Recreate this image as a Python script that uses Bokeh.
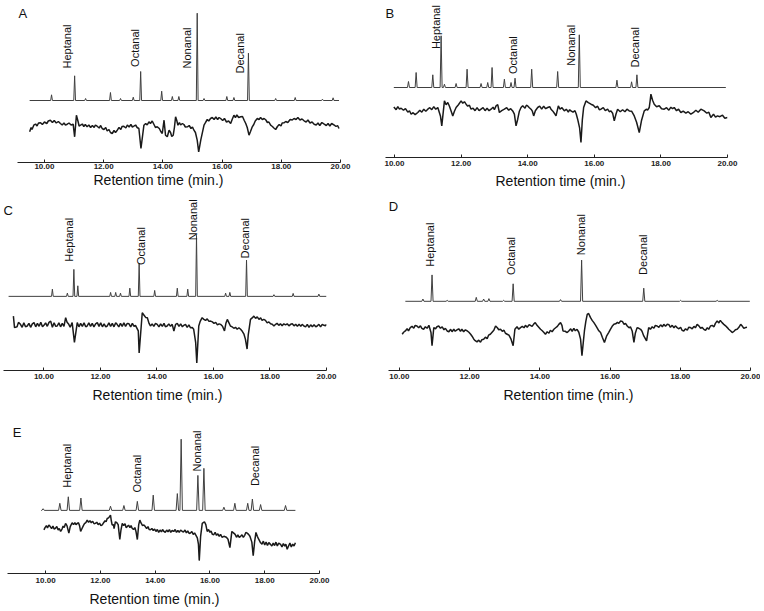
from math import pi
from bokeh.plotting import figure
from bokeh.layouts import column, row
from bokeh.models import FixedTicker, Label, Title
from bokeh.core.properties import value
from bokeh.embed import file_html
from bokeh.resources import INLINE

# ---------------- data ----------------
TICKS = [10, 12, 14, 16, 18, 20]
TICK_LABELS = ["10.00", "12.00", "14.00", "16.00", "18.00", "20.00"]
COMPOUNDS = ["Heptanal", "Octanal", "Nonanal", "Decanal"]
X_TITLE = "Retention time (min.)"

# Panel A
A_RUN = (9.50, 19.95)
A_PEAK_T = [10.24, 11.02, 11.39, 12.23, 12.57, 13.00, 13.25, 13.96, 14.32, 14.54, 15.16, 15.39, 16.16, 16.40, 16.89, 17.81, 18.47, 19.39, 19.75]
A_PEAK_H = [5.7, 24.7, 2.0, 8.0, 2.0, 3.3, 29.0, 9.3, 4.0, 4.0, 87.3, 2.0, 4.0, 3.0, 47.3, 2.0, 3.0, 1.3, 2.7]
A_LOWER = [(9.50, -8.3), (9.64, -1.7), (9.87, 0.7), (10.20, 3.3), (10.54, 0), (10.77, -0.7), (10.97, -0.7),
           (11.02, -13.3), (11.08, 8.3), (11.22, -1.7), (11.44, -3.3), (11.78, -2.7), (12.01, -6), (12.29, -10),
           (12.46, -6.7), (12.68, -2.7), (13.02, -2.7), (13.19, -5), (13.26, -25), (13.36, -1.7), (13.53, 1.7),
           (13.81, -3.3), (13.98, -10), (14.04, 3.3), (14.09, -11.7), (14.15, -13.3), (14.21, -6.7), (14.35, -11.7),
           (14.43, 6.7), (14.51, -1.7), (14.66, 0), (14.83, -3.3), (15.05, -6.7), (15.16, -16.7), (15.21, -28.3),
           (15.28, -16.7), (15.39, -1.7), (15.61, 5), (15.95, 5), (16.29, 0), (16.40, 8.3), (16.63, 6.7), (16.80, 0),
           (16.91, -11.7), (17.02, -3.3), (17.19, 5), (17.42, 5), (17.64, -1.7), (17.81, -6), (18.09, 0.7),
           (18.43, 5), (18.77, 2.7), (19.11, -0.7), (19.45, -0.7), (19.79, -1.7), (19.95, -5)]
A_LOWER_FINE = [(9.55, -4), (9.58, -6), (9.70, -0.5), (9.75, -2.5), (9.80, 0.5), (9.93, -1), (10.00, 1.5), (10.08, 0),
                (10.13, 2.5), (10.27, 1), (10.33, 3), (10.40, 0.5), (10.47, 2), (10.60, -1.5), (10.66, 0.5), (10.71, -1.5),
                (10.83, 0.5), (10.90, -1.5), (11.14, 1.5), (11.17, -2.5), (11.28, -0.5), (11.33, -3), (11.38, -1),
                (11.50, -1.5), (11.56, -4), (11.62, -2), (11.68, -4), (11.72, -1.5), (11.85, -4.5), (11.90, -2),
                (11.95, -5), (12.07, -4), (12.12, -7.5), (12.18, -6), (12.23, -9), (12.35, -7), (12.40, -9),
                (12.52, -4), (12.58, -6), (12.62, -3), (12.75, -4.5), (12.80, -1.5), (12.86, -3.5), (12.92, -1),
                (12.97, -3.5), (13.08, -1.5), (13.13, -4), (13.42, 0), (13.47, -1.5), (13.58, 0), (13.64, 2.5),
                (13.70, -1), (13.75, -4), (13.88, -5), (13.93, -8), (14.26, -9), (14.30, -13), (14.39, -4),
                (14.47, 3), (14.56, 1), (14.60, -1.5), (14.71, -1), (14.76, -3.5), (14.89, -2), (14.95, -5),
                (15.00, -3.5), (15.10, -9), (15.45, 1.5), (15.50, 4), (15.55, 2.5), (15.67, 6), (15.73, 4),
                (15.79, 6.5), (15.85, 4), (15.90, 6), (16.02, 3), (16.08, 5), (16.15, 1.5), (16.22, 2.5), (16.34, 4),
                (16.45, 6), (16.50, 8.5), (16.56, 6), (16.69, 7), (16.75, 3), (16.85, -4), (16.96, -8), (17.07, -1),
                (17.12, 2.5), (17.25, 4), (17.30, 6), (17.36, 4), (17.48, 3.5), (17.53, 1), (17.58, 1.5), (17.70, -3),
                (17.75, -4.5), (17.87, -3), (17.93, -1), (17.99, -2.5), (18.03, 0.5), (18.15, 2), (18.22, 1),
                (18.30, 4), (18.37, 3.5), (18.50, 4), (18.56, 6), (18.63, 3.5), (18.70, 4.5), (18.84, 1.5),
                (18.90, 3.5), (18.97, 0.5), (19.04, 1.5), (19.18, -1.5), (19.24, 0.5), (19.30, -2), (19.37, 1),
                (19.52, -2), (19.58, 0), (19.64, -2.5), (19.70, 0), (19.85, -3), (19.90, -2)]

# Panel B
B_RUN = (9.98, 19.95)
B_PEAK_T = [10.42, 10.65, 11.15, 11.40, 11.50, 11.85, 12.18, 12.60, 12.80, 12.93, 13.30, 13.50, 13.62, 14.12, 14.90, 15.55, 16.68, 17.12, 17.28]
B_PEAK_H = [6.0, 15.0, 12.7, 51.7, 3.3, 4.0, 18.3, 4.0, 5.0, 20.0, 8.3, 5.0, 9.3, 18.3, 16.0, 52.7, 7.3, 5.7, 12.7]
B_LOWER = [(9.98, 1.3), (10.20, 0), (10.50, -6), (10.70, -4.3), (11.00, -1), (11.30, 0.7), (11.38, -7.7),
           (11.42, -17.7), (11.50, 7.3), (11.60, 5.7), (11.70, -2.7), (11.75, -7.7), (11.85, 0.7), (12.00, 7.3),
           (12.15, 4), (12.30, -1), (12.60, -1), (12.90, -1), (13.05, 2.3), (13.15, -4.3), (13.30, -1),
           (13.55, -2.7), (13.65, -17.7), (13.70, -11), (13.80, 0.7), (14.00, 2.3), (14.10, -1), (14.18, -7.7),
           (14.30, 0.7), (14.60, 0.7), (14.75, -2.7), (14.85, -7.7), (14.92, 2.3), (15.10, -2.7), (15.30, -2.7),
           (15.50, -11), (15.60, -34.3), (15.68, 0.7), (15.75, 7.3), (15.90, 4), (16.20, -1), (16.50, -2.7),
           (16.60, -12.7), (16.70, -1), (17.05, -2.7), (17.20, -7.7), (17.35, -24.3), (17.50, -2.7), (17.65, 0.7),
           (17.70, 14), (17.80, 4), (18.10, -1), (18.40, 0.7), (18.60, -4.3), (18.90, -6), (19.30, -2.7),
           (19.50, -9.3), (19.70, -7.7), (20.00, -9.3)]
B_LOWER_FINE = [(10.05, -1.5), (10.10, 1.5), (10.15, -1), (10.27, -2), (10.33, -0.5), (10.40, -4), (10.45, -2.5),
                (10.56, -4.5), (10.62, -6.5), (10.76, -2), (10.82, -4), (10.88, -1), (10.94, -3), (11.06, 0.5),
                (11.12, -1.5), (11.18, 1.5), (11.24, -1), (11.55, 3.5), (11.65, 2), (11.80, -3), (11.92, 3.5),
                (12.05, 5), (12.10, 6.5), (12.20, 2), (12.25, 3), (12.36, 0), (12.42, -2.5), (12.48, 0.5),
                (12.54, -2.5), (12.66, 0.5), (12.72, -2.5), (12.78, 0), (12.84, -2.5), (12.96, 1), (13.00, -1.5),
                (13.10, 3.5), (13.22, -2.5), (13.37, 0.5), (13.43, -2), (13.49, -0.5), (13.60, -6), (13.75, -3),
                (13.85, 2.5), (13.92, 0), (13.96, 3), (14.05, 0.5), (14.14, -3), (14.23, -2.5), (14.36, 2),
                (14.42, -1), (14.48, 2), (14.54, -0.5), (14.66, 1.5), (14.70, -1), (14.80, -5), (14.97, -1),
                (15.03, 0.5), (15.16, -1), (15.22, -4), (15.26, -1.5), (15.36, -4), (15.42, -2.5), (15.46, -6),
                (15.56, -20), (15.64, -12), (15.82, 5.5), (15.97, 3), (16.04, 0.5), (16.10, 2), (16.15, -1.5),
                (16.27, 0.5), (16.33, -2.5), (16.40, -1), (16.45, -3.5), (16.55, -5), (16.65, -6), (16.78, -3.5),
                (16.85, -1.5), (16.92, -3.5), (16.98, -1), (17.12, -3), (17.27, -14), (17.42, -12), (17.57, -1),
                (17.60, -2), (17.68, 8), (17.75, 8), (17.87, 1.5), (17.95, 2.5), (18.02, -0.5), (18.17, 0.5),
                (18.24, -2), (18.30, 1), (18.35, -0.5), (18.47, -2.5), (18.53, -1), (18.67, -3), (18.75, -5),
                (18.82, -3.5), (18.97, -4.5), (19.05, -2), (19.12, -4), (19.20, -1), (19.38, -5), (19.44, -4),
                (19.58, -6), (19.64, -9), (19.77, -8.5), (19.85, -7), (19.92, -10)]

# Panel C
C_RUN = (8.75, 20.0)
C_PEAK_T = [10.30, 10.83, 11.06, 11.20, 12.36, 12.54, 12.71, 13.04, 13.37, 13.92, 14.72, 15.09, 15.40, 16.43, 16.58, 17.17, 18.14, 18.82, 19.73]
C_PEAK_H = [7.3, 3.3, 27.3, 10.7, 4.0, 4.0, 3.3, 8.3, 33.3, 6.0, 8.3, 7.3, 61.7, 3.3, 4.0, 36.7, 1.7, 3.0, 2.3]
C_LOWER = [(8.92, 9.3), (8.96, -2.3), (9.17, 1), (9.41, -0.7), (9.65, 2.7), (10.00, 0), (10.24, 4.3),
           (10.47, -0.7), (10.77, 7.7), (10.88, 1), (11.00, 2.7), (11.08, -17.3), (11.18, 2.7), (11.53, -0.7),
           (11.89, 2.7), (12.24, -0.7), (12.59, 1), (12.95, 2), (13.24, 0), (13.34, -5.7), (13.37, -28),
           (13.48, 12.7), (13.66, 7.7), (13.77, -0.7), (14.01, 1), (14.36, -0.7), (14.54, 1), (14.60, -5.7),
           (14.66, 1), (14.95, 0), (15.25, -2.3), (15.37, -17.3), (15.41, -38), (15.48, -0.7), (15.60, 7.7),
           (15.90, 4.3), (16.25, 1), (16.39, -5.7), (16.49, 6), (16.60, -0.7), (16.96, -4), (17.13, -14),
           (17.19, -24), (17.31, 6), (17.43, 9.3), (17.78, 6), (18.14, -0.7), (18.25, 2), (18.73, 1),
           (19.20, -0.7), (19.67, -0.7), (19.91, 0), (20.00, 1)]
C_LOWER_FINE = [(9.05, -1.5), (9.10, 3), (9.23, -2), (9.29, 2.5), (9.35, -1.5), (9.47, 2), (9.53, -2), (9.59, 1.5),
                (9.71, -1.5), (9.77, 2), (9.83, -1), (9.89, 3), (9.95, -1.5), (10.06, 2.5), (10.12, -1), (10.18, 3),
                (10.30, -2), (10.36, 2.5), (10.42, -1), (10.53, 2.5), (10.59, -1.5), (10.65, 2), (10.71, -1),
                (10.82, 3), (10.93, -2), (11.24, -1.5), (11.30, 2), (11.36, -1), (11.42, 2.5), (11.48, -1.5),
                (11.59, 2.5), (11.65, -1), (11.71, 2), (11.77, -1.5), (11.83, 1.5), (11.95, -1), (12.01, 2.5),
                (12.07, -1.5), (12.13, 1.5), (12.19, -1.5), (12.30, 2.5), (12.36, -1), (12.42, 2), (12.48, -1.5),
                (12.54, 2.5), (12.65, -1.5), (12.71, 2), (12.77, -1), (12.83, 2.5), (12.89, -1), (13.01, 1.5),
                (13.07, -1.5), (13.13, 2), (13.19, -1), (13.55, 10), (13.60, 8), (13.72, 2), (13.83, 1.5),
                (13.89, -1), (13.95, 2), (14.07, -1.5), (14.13, 1.5), (14.19, -1), (14.25, 2), (14.30, -1.5),
                (14.42, 1.5), (14.48, -1), (14.72, 2), (14.78, -1), (14.84, 1.5), (14.90, -1.5), (15.01, 1),
                (15.07, -2), (15.13, 0.5), (15.19, -2.5), (15.30, -4), (15.53, 4), (15.66, 6), (15.72, 5),
                (15.78, 6.5), (15.84, 4), (15.96, 3.5), (16.02, 2), (16.08, 3), (16.14, 0.5), (16.20, 1.5),
                (16.32, -1), (16.44, 2), (16.54, 3), (16.66, -1.5), (16.72, -3), (16.78, -2), (16.84, -4),
                (16.90, -2.5), (17.02, -6), (17.08, -9), (17.23, -10), (17.27, -2), (17.37, 7.5), (17.49, 7),
                (17.55, 8.5), (17.61, 6), (17.67, 7.5), (17.72, 5), (17.84, 5), (17.90, 2.5), (17.96, 3.5),
                (18.02, 1.5), (18.08, 1), (18.20, 1), (18.31, 0), (18.37, 1.5), (18.43, -0.5), (18.49, 1.5),
                (18.55, 0.5), (18.61, 1.5), (18.67, -0.5), (18.79, 1.5), (18.85, -0.5), (18.91, 1), (18.97, -1),
                (19.03, 1), (19.09, -1), (19.14, 1), (19.26, -1.5), (19.32, 1), (19.38, -2), (19.44, 0.5),
                (19.50, -1.5), (19.56, 0.5), (19.62, -1.5), (19.73, 1), (19.79, -1.5), (19.85, 1), (19.96, -0.5)]

# Panel D
D_RUN = (10.17, 19.98)
D_PEAK_T = [10.67, 10.93, 11.36, 12.19, 12.40, 12.55, 12.97, 13.24, 14.59, 15.19, 16.96, 18.01, 19.05]
D_PEAK_H = [2.3, 26.7, 1.0, 4.0, 2.3, 2.7, 1.0, 17.7, 1.7, 41.7, 13.3, 1.0, 1.0]
D_LOWER = [(10.08, -5), (10.17, -1.7), (10.31, 1.7), (10.50, 3.3), (10.69, 0), (10.84, 4), (10.90, -3.3),
           (10.93, -16.7), (10.98, 1.7), (11.12, 3.3), (11.36, -1.7), (11.64, -0.7), (11.93, -1.7), (12.12, -10),
           (12.21, -12.7), (12.40, -10), (12.59, -5), (12.74, 3.3), (12.88, 0), (13.07, -5), (13.18, -10),
           (13.24, -16.7), (13.29, 0), (13.45, 1.7), (13.73, 4), (13.87, 6.7), (14.02, 0), (14.16, -5),
           (14.40, 0), (14.59, 6.7), (14.66, -1.7), (14.78, -3.3), (15.06, 0), (15.16, -10), (15.20, -26.7),
           (15.27, -1.7), (15.35, 15), (15.39, 16), (15.54, 6.7), (15.73, -3.3), (15.84, -13.3), (15.96, -3.3),
           (16.11, 5), (16.30, 8.3), (16.49, 3.3), (16.63, -1.7), (16.68, -13.3), (16.77, 1.7), (16.87, 0),
           (16.96, -6.7), (17.04, -11.7), (17.10, 1.7), (17.34, 3.3), (17.63, 5), (17.91, 1.7), (18.10, -1.7),
           (18.29, 1.7), (18.48, 5), (18.67, 0), (18.86, 3.3), (19.05, 8.3), (19.19, 6.7), (19.34, 1.7),
           (19.48, -3.3), (19.62, 0), (19.72, 5), (19.86, 1.7)]
D_LOWER_FINE = [(10.12, -3), (10.22, 0.5), (10.26, -1.5), (10.36, 3), (10.41, 1), (10.45, 4), (10.55, 1.5),
                (10.60, 3.5), (10.64, 1), (10.74, 2.5), (10.79, 1), (11.03, 0.5), (11.07, 2.5), (11.17, 1),
                (11.22, 2.5), (11.27, -0.5), (11.31, 1), (11.41, -2.5), (11.46, 0), (11.50, -2.5), (11.55, 0),
                (11.59, -2), (11.69, 0.5), (11.74, -2), (11.78, 0), (11.83, -2.5), (11.88, -0.5), (11.98, -3),
                (12.03, -5), (12.07, -7), (12.16, -11.5), (12.26, -11), (12.31, -13), (12.35, -10.5), (12.45, -8),
                (12.50, -9.5), (12.54, -6), (12.64, -3), (12.69, -1), (12.79, 1.5), (12.83, -0.5), (12.93, -2),
                (12.98, -1), (13.02, -4), (13.12, -6), (13.35, 2.5), (13.40, 0), (13.50, 3), (13.55, 1.5),
                (13.59, 4), (13.64, 2), (13.69, 4.5), (13.78, 3), (13.83, 5.5), (13.92, 4), (13.97, 2),
                (14.07, -1.5), (14.11, -3), (14.21, -2.5), (14.26, -4), (14.30, -1), (14.35, -2.5), (14.45, 1.5),
                (14.50, 3), (14.54, 5), (14.63, 4), (14.72, -2), (14.83, -1.5), (14.88, 0.5), (14.92, -2),
                (14.97, 1), (15.01, -1.5), (15.11, -3), (15.31, 8), (15.44, 12), (15.49, 9), (15.59, 4), (15.64, 1),
                (15.68, -1.5), (15.78, -8), (15.90, -7), (16.01, 0), (16.06, 3), (16.16, 5.5), (16.21, 7),
                (16.25, 6), (16.35, 8), (16.40, 5), (16.44, 6), (16.54, 1.5), (16.58, 2.5), (16.72, -4),
                (16.82, 1), (16.91, -2), (17.15, 0), (17.20, 2.5), (17.25, 1), (17.29, 4), (17.39, 2), (17.44, 4.5),
                (17.49, 2.5), (17.53, 5), (17.58, 3), (17.68, 4.5), (17.72, 2), (17.77, 4), (17.82, 1.5),
                (17.86, 3.5), (17.96, 0.5), (18.01, 2), (18.05, -1), (18.15, 0.5), (18.20, -1), (18.24, 2),
                (18.34, 0.5), (18.39, 3), (18.43, 1.5), (18.53, 3.5), (18.58, 1), (18.62, 2), (18.72, -1),
                (18.77, 1.5), (18.81, 0), (18.91, 4), (18.96, 2.5), (19.00, 6), (19.10, 6.5), (19.14, 9),
                (19.24, 5), (19.29, 3.5), (19.38, 0), (19.43, -1.5), (19.53, -2), (19.57, -0.5), (19.67, 2),
                (19.77, 3), (19.81, 1), (19.90, 2)]

# Panel E
E_RUN = (9.84, 19.12)
E_PEAK_T = [9.91, 10.52, 10.83, 11.29, 12.37, 12.86, 13.35, 13.93, 14.81, 14.95, 15.56, 15.78, 16.51, 16.91, 17.38, 17.55, 17.85, 18.76]
E_PEAK_H = [1.7, 7.3, 14.0, 12.7, 4.3, 5.0, 9.3, 15.7, 17.3, 73.3, 36.0, 43.3, 3.3, 7.3, 7.3, 11.7, 6.0, 5.0]
E_LOWER = [(9.94, -3.3), (10.12, 1.7), (10.36, -1.7), (10.55, -5), (10.73, 3.3), (10.85, -6.7), (10.97, 4),
           (11.16, 3.3), (11.28, -5), (11.52, 6.7), (11.82, 3.3), (12.07, 1.7), (12.25, 8.3), (12.37, 11.7),
           (12.43, 1.7), (12.55, 5), (12.71, -13.3), (12.80, 3.3), (12.98, 0), (13.16, -1.7), (13.35, -13.3),
           (13.44, 6.7), (13.59, 1.7), (13.83, -3.3), (14.32, -5), (14.68, -5), (14.99, -5), (15.29, -6.7),
           (15.54, -11.7), (15.61, -35), (15.72, 3.3), (15.80, 5), (15.90, -5), (16.14, -8.3), (16.51, -10),
           (16.73, -21.7), (16.87, -6.7), (17.12, -10), (17.36, -6.7), (17.58, -30), (17.73, -10), (17.85, -16.7),
           (18.21, -18.3), (18.58, -18.3), (18.82, -23.3), (19.12, -16.7)]
E_LOWER_FINE = [(9.98, -1), (10.03, 1), (10.07, -1.5), (10.17, 0), (10.22, -2), (10.27, 0.5), (10.31, -2.5),
                (10.41, 0), (10.46, -3.5), (10.50, -2), (10.60, -2.5), (10.64, 0.5), (10.68, -1), (10.78, 1),
                (10.90, 0), (11.02, 2), (11.07, 4), (11.11, 2), (11.20, 4), (11.24, 1), (11.33, -2), (11.38, 1),
                (11.42, 3), (11.47, 4), (11.57, 4.5), (11.62, 6), (11.67, 4), (11.72, 5.5), (11.77, 3), (11.87, 4.5),
                (11.92, 2), (11.97, 3.5), (12.02, 1), (12.12, 4), (12.17, 6), (12.21, 5), (12.30, 9), (12.40, 6),
                (12.48, 2), (12.50, -2), (12.60, 4), (12.65, 2), (12.75, -4), (12.85, 1), (12.90, 3), (12.94, -1),
                (13.03, 1.5), (13.08, -1), (13.12, 1), (13.21, -3), (13.26, -1), (13.30, -5), (13.40, 2),
                (13.49, 3.5), (13.54, 1), (13.64, 0), (13.69, -2), (13.74, 0), (13.78, -3), (13.88, -2),
                (13.93, -4), (13.98, -2.5), (14.03, -5), (14.08, -3), (14.13, -6), (14.18, -3.5), (14.23, -5.5),
                (14.27, -3), (14.37, -6), (14.42, -3.5), (14.47, -5.5), (14.52, -3), (14.57, -6), (14.62, -4),
                (14.73, -3), (14.78, -6), (14.83, -4), (14.88, -6), (14.93, -3.5), (15.04, -5.5), (15.09, -3.5),
                (15.14, -6.5), (15.19, -4.5), (15.24, -7), (15.34, -5), (15.39, -8), (15.44, -6.5), (15.49, -9),
                (15.58, -18), (15.66, -10), (15.85, 2), (15.95, -3), (16.00, -6), (16.04, -4.5), (16.09, -8),
                (16.19, -6), (16.24, -9), (16.29, -7.5), (16.34, -10), (16.39, -8), (16.44, -11), (16.60, -11),
                (16.66, -13), (16.80, -5), (16.92, -8), (16.97, -11), (17.02, -8.5), (17.07, -11), (17.17, -8.5),
                (17.22, -11), (17.27, -9), (17.31, -6), (17.41, -8), (17.46, -10), (17.53, -16), (17.63, -16),
                (17.68, -6), (17.78, -13), (17.90, -18), (17.95, -15), (18.00, -19), (18.05, -16), (18.10, -19.5),
                (18.15, -16.5), (18.26, -20), (18.31, -17), (18.36, -19.5), (18.41, -16), (18.46, -20),
                (18.51, -17), (18.63, -21), (18.68, -17.5), (18.73, -20), (18.77, -18), (18.87, -20), (18.92, -17),
                (18.97, -21), (19.02, -18), (19.07, -20)]

# ---------------- layout / style ----------------
FONT = "Liberation Sans"

PANELS = [
    dict(letter="A", run=A_RUN, pt=A_PEAK_T, ph=A_PEAK_H, lower=A_LOWER + A_LOWER_FINE,
         w=380, h=198, frame_h=162, bl=17, br=40, x0=9.09, up_off=62, lo_off=39, pw=0.03,
         lab_t=[10.77, 13.07, 14.83, 16.59], lab_y=[94, 95.6, 94, 89],
         letter_xy=(9.12, 157), t_off=76, t_stand=-3, standoff=1),
    dict(letter="B", run=B_RUN, pt=B_PEAK_T, ph=B_PEAK_H, lower=B_LOWER + B_LOWER_FINE,
         w=380, h=193, frame_h=157, bl=5, br=33, x0=9.73, up_off=70, lo_off=49.3, pw=0.03,
         lab_t=[11.25, 13.55, 15.30, 17.22], lab_y=[108.4, 83.4, 91.7, 90],
         letter_xy=(9.73, 152), t_off=110, t_stand=5, standoff=3),
    dict(letter="C", run=C_RUN, pt=C_PEAK_T, ph=C_PEAK_H, lower=C_LOWER + C_LOWER_FINE,
         w=380, h=207, frame_h=174, bl=3, br=54, x0=8.57, up_off=75, lo_off=45.7, pw=0.03,
         lab_t=[10.88, 13.42, 15.27, 17.13], lab_y=[110, 106.7, 131.7, 113.4],
         letter_xy=(8.57, 169), t_off=89, t_stand=6, standoff=3),
    dict(letter="D", run=D_RUN, pt=D_PEAK_T, ph=D_PEAK_H, lower=D_LOWER + D_LOWER_FINE,
         w=380, h=207, frame_h=174, bl=8, br=10, x0=9.69, up_off=70, lo_off=41.7, pw=0.03,
         lab_t=[10.88, 13.19, 15.16, 16.93], lab_y=[105, 96.7, 116.7, 96.7],
         letter_xy=(9.70, 174), t_off=115, t_stand=6, standoff=3),
    dict(letter="E", run=E_RUN, pt=E_PEAK_T, ph=E_PEAK_H, lower=E_LOWER + E_LOWER_FINE,
         w=380, h=204, frame_h=173, bl=7, br=61, x0=8.61, up_off=65, lo_off=48.3, pw=0.045,
         lab_t=[10.79, 13.32, 15.51, 17.63], lab_y=[88.3, 83.3, 105, 90],
         letter_xy=(8.80, 153), t_off=82, t_stand=6, standoff=4),
]


def upper_trace(run, pt, ph, w):
    pts = [(run[0], 0.0), (run[1], 0.0)]
    for t, hgt in zip(pt, ph):
        pts += [(t - w, 0.0), (t, hgt), (t + w, 0.0)]
    pts.sort()
    return [q[0] for q in pts], [q[1] for q in pts]


def make_panel(cfg):
    p = figure(width=cfg["w"], height=cfg["h"], x_range=(cfg["x0"], 20.0), y_range=(0, cfg["frame_h"]),
               output_backend="svg", toolbar_location=None, y_axis_location=None,
               min_border_left=cfg["bl"], min_border_right=cfg["br"], min_border_top=0,
               min_border_bottom=cfg["h"] - cfg["frame_h"])
    p.outline_line_color = None
    p.grid.visible = False
    p.background_fill_color = "white"
    p.border_fill_color = "white"

    ax = p.xaxis[0]
    ax.ticker = FixedTicker(ticks=TICKS)
    ax.major_label_overrides = {t: s for t, s in zip(TICKS, TICK_LABELS)}
    ax.minor_tick_line_color = None
    ax.major_tick_in = 3
    ax.major_tick_out = 0
    ax.major_label_standoff = cfg["standoff"]
    ax.axis_line_color = "#222222"
    ax.major_tick_line_color = "#222222"
    ax.major_label_text_font = FONT
    ax.major_label_text_font_style = "bold"
    ax.major_label_text_font_size = "8px"
    ax.major_label_text_color = "#222222"

    ux, uy = upper_trace(cfg["run"], cfg["pt"], cfg["ph"], cfg["pw"])
    p.line(ux, [cfg["up_off"] + y for y in uy], line_color="#404040", line_width=1.0)

    low = sorted(cfg["lower"])
    p.line([q[0] for q in low], [cfg["lo_off"] + q[1] for q in low], line_color="#1a1a1a", line_width=1.5)

    p.text(x=cfg["lab_t"], y=cfg["lab_y"], text=COMPOUNDS, angle=pi / 2,
           text_align="left", text_baseline="middle", text_font=value(FONT),
           text_font_size="11px", text_color="#111111")

    lx0, ly0 = cfg["letter_xy"]
    p.add_layout(Label(x=lx0, y=ly0, text=cfg["letter"], text_align="left", text_baseline="top",
                       text_font=FONT, text_font_size="13px", text_color="#111111"))
    p.add_layout(Title(text=X_TITLE, align="left", offset=cfg["t_off"], standoff=cfg["t_stand"],
                       text_font=FONT, text_font_size="14px", text_font_style="normal",
                       text_color="#111111"), "below")
    return p


figs = [make_panel(c) for c in PANELS]
layout = column(row(figs[0], figs[1]), row(figs[2], figs[3]), row(figs[4]))

open("out.html", "w").write(file_html(layout, INLINE))
